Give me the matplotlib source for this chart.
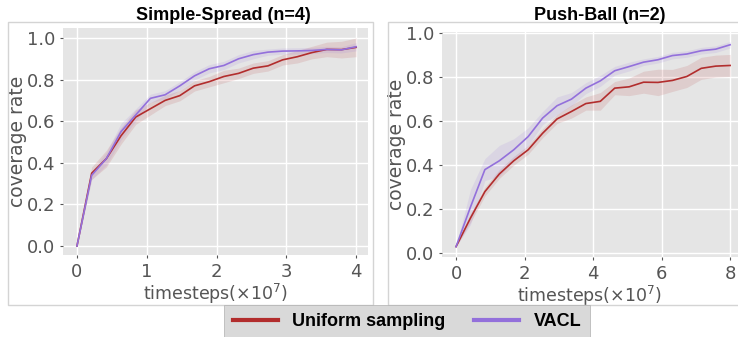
import numpy as np
import matplotlib
matplotlib.use("Agg")
import matplotlib.pyplot as plt
from matplotlib.patches import Rectangle

plt.style.use("ggplot")
plt.rcParams["font.family"] = ["DejaVu Sans"]

# Simple-Spread (n=4)
ss_x = np.linspace(0, 4, 20)
ss_uniform = [0.0, 0.35, 0.42, 0.53, 0.62, 0.66, 0.70, 0.723, 0.77, 0.79,
              0.815, 0.83, 0.855, 0.866, 0.895, 0.91, 0.93, 0.945, 0.944, 0.955]
ss_uniform_err = [0.0, 0.03, 0.04, 0.04, 0.035, 0.03, 0.025, 0.025, 0.025, 0.025,
                  0.03, 0.025, 0.025, 0.025, 0.025, 0.03, 0.03, 0.035, 0.04, 0.045]
ss_vacl = [0.0, 0.34, 0.42, 0.55, 0.63, 0.71, 0.727, 0.77, 0.818, 0.852,
           0.868, 0.90, 0.92, 0.932, 0.937, 0.938, 0.94, 0.945, 0.943, 0.958]
ss_vacl_err = [0.0, 0.02, 0.03, 0.04, 0.03, 0.02, 0.02, 0.02, 0.02, 0.02,
               0.02, 0.02, 0.02, 0.015, 0.015, 0.015, 0.015, 0.015, 0.015, 0.02]

# Push-Ball (n=2)
pb_x = np.linspace(0, 8, 20)
pb_uniform = [0.03, 0.16, 0.28, 0.36, 0.42, 0.47, 0.545, 0.61, 0.644, 0.68,
              0.69, 0.75, 0.756, 0.777, 0.776, 0.785, 0.803, 0.84, 0.85, 0.853]
pb_uniform_err = [0.0, 0.02, 0.02, 0.02, 0.02, 0.02, 0.02, 0.02, 0.03, 0.03,
                  0.04, 0.03, 0.04, 0.05, 0.06, 0.05, 0.05, 0.05, 0.05, 0.05]
pb_vacl = [0.03, 0.21, 0.38, 0.42, 0.47, 0.53, 0.614, 0.67, 0.70, 0.75,
           0.783, 0.829, 0.848, 0.868, 0.879, 0.898, 0.905, 0.92, 0.927, 0.947]
pb_vacl_err = [0.0, 0.08, 0.05, 0.07, 0.05, 0.04, 0.03, 0.04, 0.03, 0.025,
               0.025, 0.02, 0.02, 0.015, 0.015, 0.015, 0.015, 0.015, 0.015, 0.015]

red = "#b22d2d"
purple = "#9370db"

W, H = 738, 337
fig = plt.figure(figsize=(W / 100, H / 100), dpi=100)
fig.patch.set_facecolor("white")


def px(x0, y0, x1, y1):
    return [x0 / W, 1 - y1 / H, (x1 - x0) / W, (y1 - y0) / H]


# panel frames
for (x0, y0, x1, y1) in [(8, 22, 373, 305), (388, 22, 745, 305)]:
    fig.add_artist(Rectangle((x0 / W, 1 - y1 / H), (x1 - x0) / W, (y1 - y0) / H,
                             transform=fig.transFigure, fill=False,
                             edgecolor="#d4d4d4", lw=1))

ax1 = fig.add_axes(px(63, 28, 368, 255))
ax2 = fig.add_axes(px(442, 32, 738, 257))

panels = [
    (ax1, ss_x, ss_uniform, ss_uniform_err, ss_vacl, ss_vacl_err,
     (-0.2, 4.17), (-0.043, 1.048), [0, 1, 2, 3, 4]),
    (ax2, pb_x, pb_uniform, pb_uniform_err, pb_vacl, pb_vacl_err,
     (-0.41, 8.23), (-0.017, 1.005), [0, 2, 4, 6, 8]),
]

for ax, x, u, ue, v, ve, xl, yl, xt in panels:
    u, ue, v, ve = map(np.array, (u, ue, v, ve))
    ax.set_facecolor("#e5e5e5")
    ax.fill_between(x, u - ue, u + ue, color=red, alpha=0.13, lw=0)
    ax.fill_between(x, v - ve, v + ve, color=purple, alpha=0.13, lw=0)
    ax.plot(x, u, color=red, lw=1.2)
    ax.plot(x, v, color=purple, lw=1.2)
    ax.set_xlim(*xl)
    ax.set_ylim(*yl)
    ax.set_xticks(xt)
    ax.set_yticks([0.0, 0.2, 0.4, 0.6, 0.8, 1.0])
    ax.grid(True, color="white", lw=1)
    ax.tick_params(labelsize=13, colors="#555555", length=2)
    for s in ax.spines.values():
        s.set_visible(False)
    ax.set_xlabel("timesteps($\\times10^7$)", fontsize=12.5, color="#555555", labelpad=1)
    ax.set_ylabel("coverage rate", fontsize=13.5, color="#555555", labelpad=0)

fig.text(223 / W, 1 - 15 / H, "Simple-Spread (n=4)", ha="center", va="center",
         fontsize=13, fontweight="bold", family="Liberation Sans")
fig.text(600 / W, 1 - 15 / H, "Push-Ball (n=2)", ha="center", va="center",
         fontsize=13, fontweight="bold", family="Liberation Sans")

h1, = ax1.plot([], [], color=red, lw=3)
h2, = ax1.plot([], [], color=purple, lw=3)
leg = fig.legend([h1, h2], ["Uniform sampling", "VACL"], ncol=2,
                 loc="lower center", bbox_to_anchor=(407 / W, -0.03),
                 prop={"family": "Liberation Sans", "weight": "bold", "size": 13},
                 frameon=True, fancybox=False, facecolor="#d9d9d9",
                 edgecolor="#b0b0b0", framealpha=1, handlelength=2.5,
                 columnspacing=1.6, borderpad=0.45)

fig.savefig("out.png", dpi=100)
